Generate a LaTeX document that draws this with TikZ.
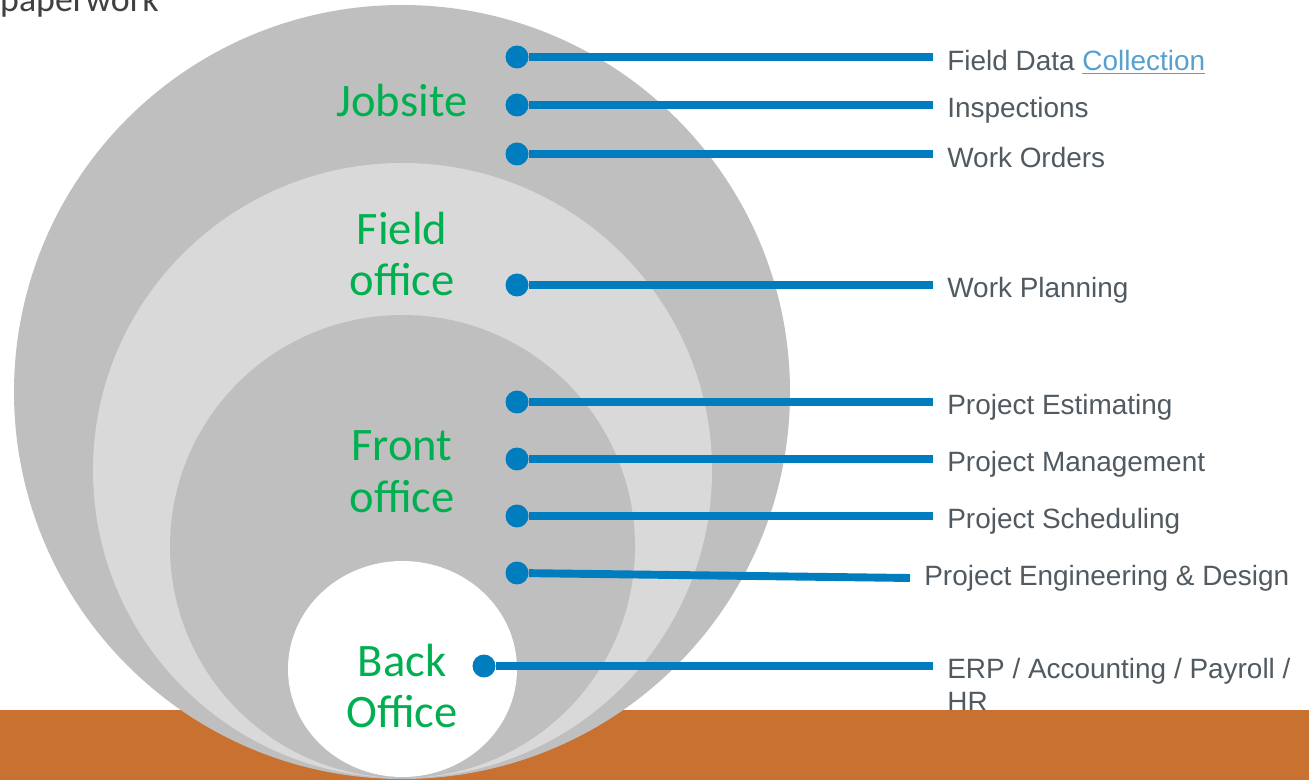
\documentclass[tikz,border=0pt]{standalone}
\usepackage{fontspec}
\setmainfont{Liberation Sans}
\newfontfamily\calib{Carlito}
\definecolor{jobgray}{RGB}{191,191,191}
\definecolor{fieldgray}{RGB}{217,217,217}
\definecolor{linkblue}{RGB}{0,125,190}
\definecolor{labelgreen}{RGB}{0,176,80}
\definecolor{textgray}{RGB}{80,90,96}
\definecolor{hrefblue}{RGB}{86,160,208}
\definecolor{groundorange}{RGB}{200,113,48}
\tikzset{
  dot/.style={circle,fill=linkblue,minimum size=0.46cm,inner sep=0pt},
  link/.style={linkblue,line width=4.5pt},
  item/.style={anchor=west,inner xsep=0.28cm,inner ysep=0pt,text=textgray,
    font=\fontsize{15.9}{18.7}\selectfont,align=left},
  zone/.style={text=labelgreen,font=\calib\fontsize{26.5}{29.5}\selectfont,align=center}
}
\begin{document}
\begin{tikzpicture}[x=0.02cm,y=-0.02cm]
      \useasboundingbox (0,0) rectangle (1309,780);
      % item texts
      \node[item] (t1) at (933,62) {Field Data \textcolor{hrefblue}{\underline{Collection}}};
      \node[item] (t2) at (933,110) {Inspections};
      \node[item] (t3) at (933,158) {Work Orders};
      \node[item] (t4) at (933,290) {Work Planning};
      \node[item] (t5) at (933,407) {Project Estimating};
      \node[item] (t6) at (933,464) {Project Management};
      \node[item] (t7) at (933,521) {Project Scheduling};
      \node[item] (t8) at (910,578) {Project Engineering \& Design};
      \node[item,anchor=north west] (t9) at (933,658) {ERP / Accounting / Payroll /\\HR};
      % ground and circles
      \fill[groundorange] (0,710) rectangle (1309,780);
      \fill[jobgray] (402,392) ellipse [x radius=388,y radius=387];
      \fill[fieldgray] (402.5,470.5) ellipse [x radius=309.5,y radius=307.5];
      \fill[jobgray] (402.5,546.5) ellipse [x radius=232.5,y radius=231.5];
      \fill[white] (402.5,669) ellipse [x radius=114.5,y radius=108];
      \node[anchor=base west,text=black!75,font=\calib\fontsize{20.4}{24}\selectfont]
        (paper) at (-6,12) {paperwork};
      % zone labels
      \node[zone] (jobsite) at (402,101) {Jobsite};
      \node[zone] (field) at (402,254) {Field\\office};
      \node[zone] (front) at (402,472) {Front\\office};
      \node[zone] (back) at (402,686) {Back\\Office};
      % dots and connectors
      \node[dot] (d1) at (517,57) {};
      \node[dot] (d2) at (517,105) {};
      \node[dot] (d3) at (517,154) {};
      \node[dot] (d4) at (517,285) {};
      \node[dot] (d5) at (517,402) {};
      \node[dot] (d6) at (517,459) {};
      \node[dot] (d7) at (517,516) {};
      \node[dot] (d8) at (517,573) {};
      \node[dot] (d9) at (484,666) {};
      \begin{scope}[link]
        \draw (d1) -- (d1 -| t1.west);
        \draw (d2) -- (d2 -| t2.west);
        \draw (d3) -- (d3 -| t3.west);
        \draw (d4) -- (d4 -| t4.west);
        \draw (d5) -- (d5 -| t5.west);
        \draw (d6) -- (d6 -| t6.west);
        \draw (d7) -- (d7 -| t7.west);
        \draw (d8) -- (t8.west);
        \draw (d9) -- (d9 -| t9.west);
      \end{scope}
    \end{tikzpicture}
\end{document}
